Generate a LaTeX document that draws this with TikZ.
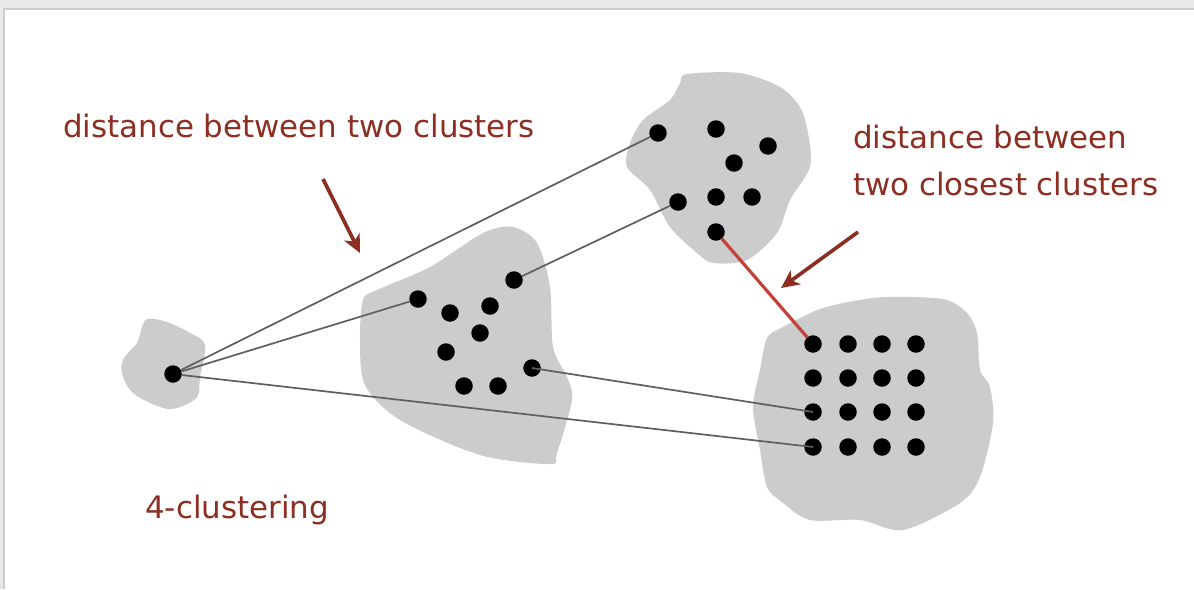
\documentclass[tikz,border=0pt]{standalone}
\usepackage{fontspec}
\setmainfont{DejaVu Sans}
\usetikzlibrary{arrows.meta}
\definecolor{labelred}{RGB}{140,46,34}
\definecolor{closered}{RGB}{196,66,58}
\definecolor{blobgray}{RGB}{204,204,204}
\definecolor{linegray}{RGB}{95,95,95}
\definecolor{shadowgray}{RGB}{232,232,232}
\definecolor{edgegray}{RGB}{205,205,205}
\tikzset{
  pt/.style={circle,fill=black,minimum size=17.5pt,inner sep=0pt},
  blob/.style={fill=blobgray,draw=none},
  link/.style={draw=linegray,line width=1.7pt},
  closest/.style={draw=closered,line width=3.2pt},
  pointer/.style={draw=labelred,line width=3.6pt,-{Stealth[length=18pt,width=17pt,inset=5pt]}},
  lbl/.style={text=labelred,anchor=base west,inner sep=0pt,font=\fontsize{30.9}{36}\selectfont}
}
\begin{document}
\begin{tikzpicture}[x=1pt,y=-1pt]
\useasboundingbox (0,0) rectangle (1194,589);
% frame shadow
\fill[shadowgray] (0,0) rectangle (1194,589);
\fill[edgegray] (3,8) rectangle (1194,589);
\fill[white] (5,10) rectangle (1194,589);
% blobs
\fill[blob] plot[smooth cycle,tension=0.6] coordinates {(148,319) (167,322) (190,333) (205,345) (200,377) (197,397) (177,408) (160,407) (133,393) (122,373) (124,358) (137,343) (142,327)};
\fill[blob] plot[smooth cycle,tension=0.5] coordinates {(363,300) (377,290) (430,267) (483,233) (513,227) (537,243) (550,287) (553,347) (567,377) (572,400) (557,453) (550,464) (480,455) (400,420) (365,385) (360,340)};
\fill[blob] plot[smooth cycle,tension=0.5] coordinates {(687,74) (740,73) (780,87) (800,107) (808,133) (810,167) (790,200) (777,233) (747,260) (713,263) (697,253) (670,227) (650,190) (627,167) (630,143) (643,120) (670,100) (680,83)};
\fill[blob] plot[smooth cycle,tension=0.5] coordinates {(767,338) (783,327) (823,308) (873,298) (913,297) (947,300) (967,313) (977,333) (980,370) (990,387) (993,423) (980,477) (960,503) (903,530) (860,520) (810,520) (783,503) (767,487) (760,450) (753,407) (760,370)};
% points
\node[pt] (L) at (173,374) {};
\node[pt] (M1) at (418,299) {};
\node[pt] (M2) at (450,313) {};
\node[pt] (M3) at (490,306) {};
\node[pt] (M4) at (514,280) {};
\node[pt] (M5) at (480,333) {};
\node[pt] (M6) at (446,352) {};
\node[pt] (M7) at (464,386) {};
\node[pt] (M8) at (498,386) {};
\node[pt] (M9) at (532,368) {};
\node[pt] (T1) at (658,133) {};
\node[pt] (T2) at (716,129) {};
\node[pt] (T3) at (768,146) {};
\node[pt] (T4) at (734,163) {};
\node[pt] (T5) at (678,202) {};
\node[pt] (T6) at (716,197) {};
\node[pt] (T7) at (752,197) {};
\node[pt] (T8) at (716,232) {};
\foreach \r/\y in {1/344,2/378,3/412,4/447}{
  \foreach \c/\x in {1/813,2/848,3/882,4/916}{
    \node[pt] (R\r\c) at (\x,\y) {};
  }
}
% connectors
\draw[link] (L) -- (T1);
\draw[link] (L) -- (M1);
\draw[link] (L) -- (R41.center);
\draw[link] (M4) -- (T5);
\draw[link] (M9.center) -- (R31.center);
\draw[closest] (T8) -- (R11);
% labels
\node[lbl] (lab1) at (63,137) {distance between two clusters};
\node[lbl] (lab2a) at (853,148) {distance between};
\node[lbl] (lab2b) at (853,195) {two closest clusters};
\node[lbl] (lab3) at (145,518) {4-clustering};
\coordinate (a1s) at (323,179);
\coordinate (a1e) at (360,253);
\coordinate (a2s) at (858,232);
\coordinate (a2e) at (781,288);
\draw[pointer] (a1s) -- (a1e);
\draw[pointer] (a2s) -- (a2e);
\end{tikzpicture}
\end{document}
